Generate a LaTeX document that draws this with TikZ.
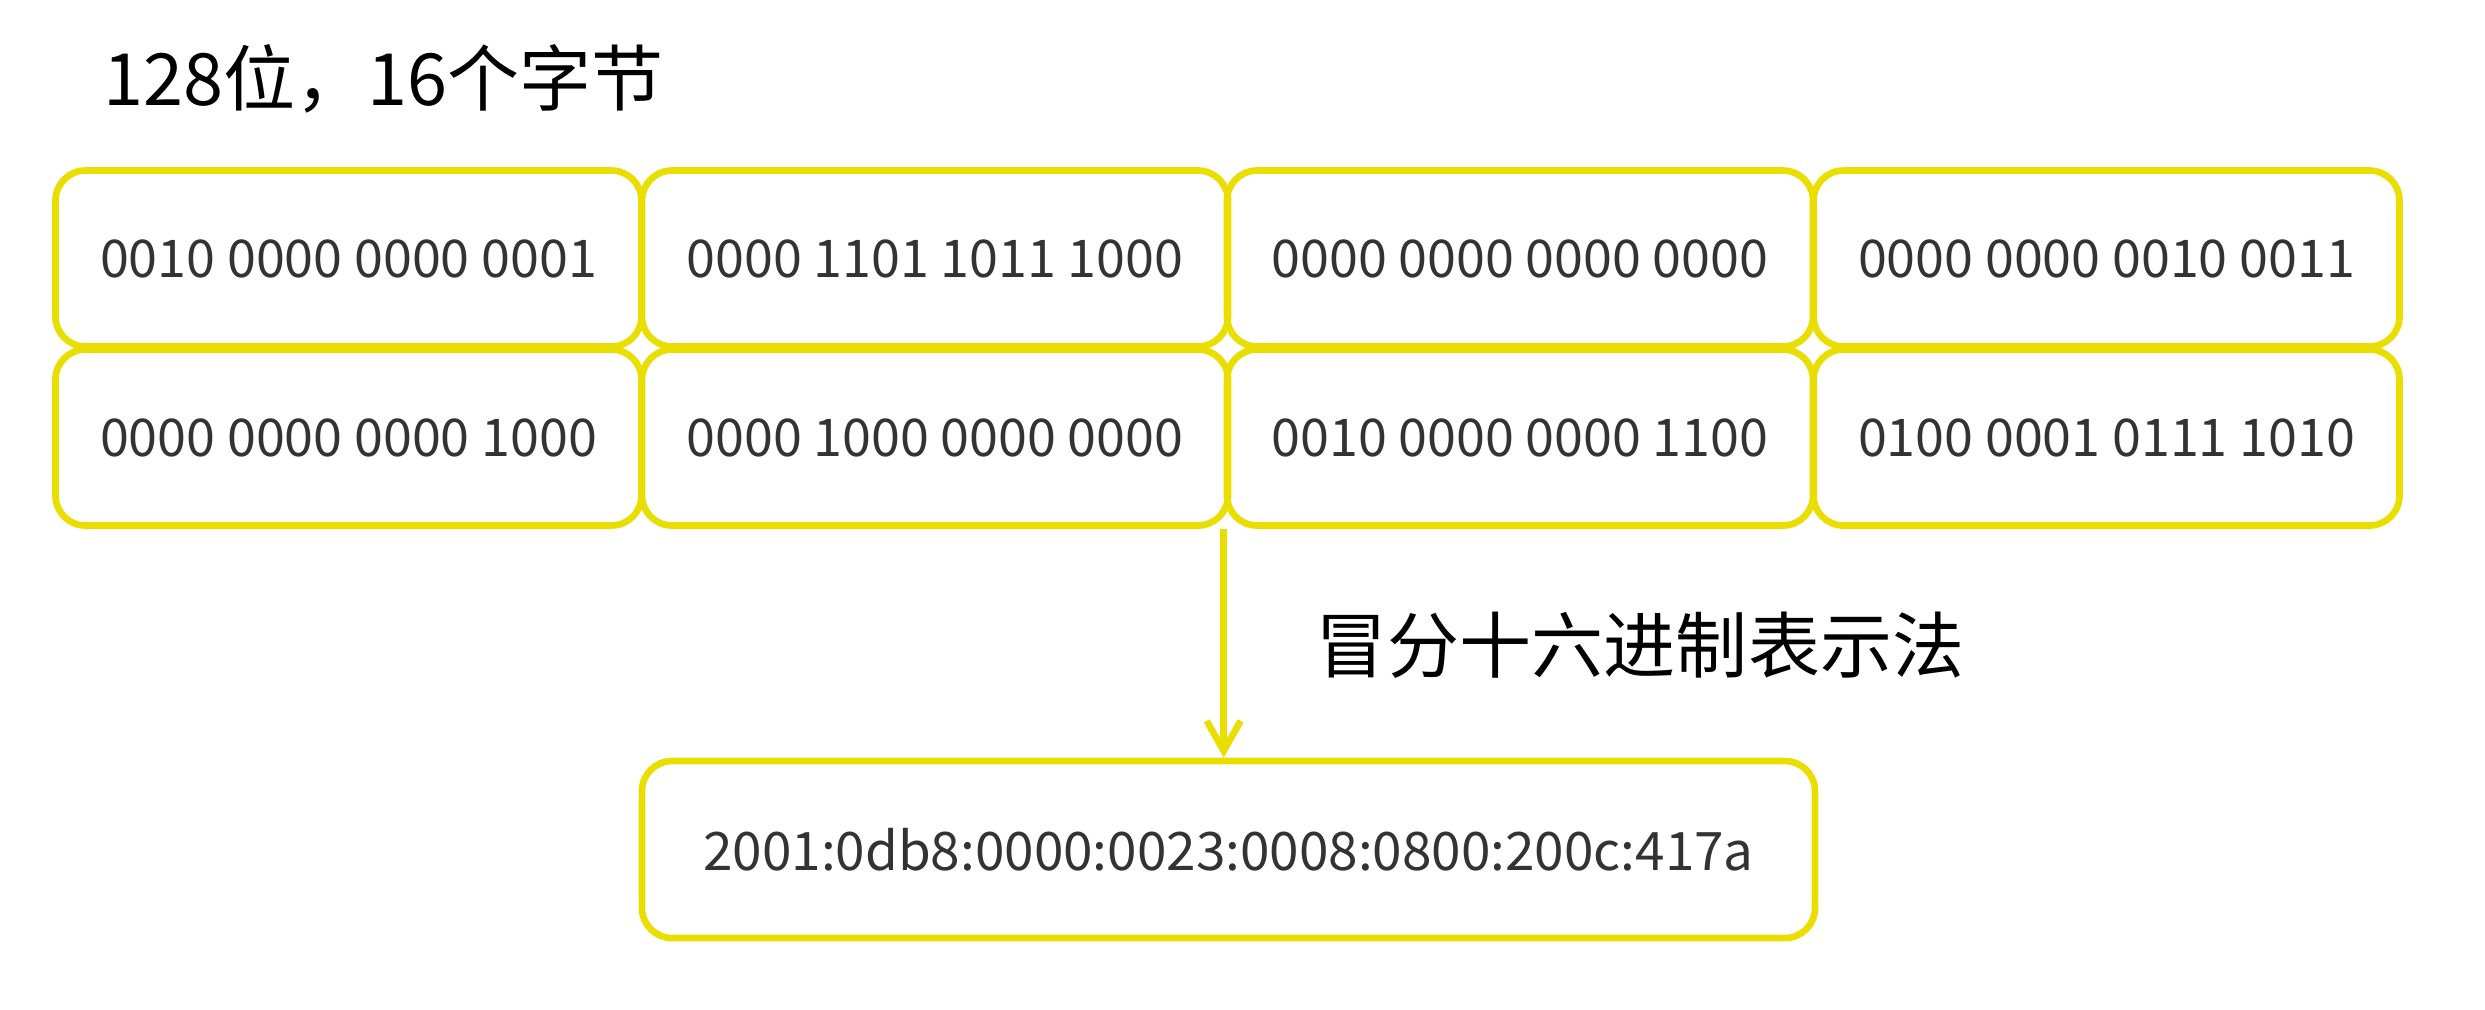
\documentclass[tikz,border=0pt]{standalone}
\usepackage{fontspec}
\setmainfont{Noto Sans CJK SC}
\usetikzlibrary{arrows.meta}
\definecolor{boxyellow}{RGB}{234,222,0}
\definecolor{bintext}{RGB}{51,51,51}
\begin{document}
\begin{tikzpicture}
\tikzset{ >={Straight Barb[length=3mm,width=3.4mm]},
  binbox/.style={draw=boxyellow, line width=1.9pt, rounded corners=0.3cm,
    minimum width=5.86cm, minimum height=1.76cm, inner sep=0pt,
    text=bintext, font=\fontsize{14.8}{17}\selectfont},
  hexbox/.style={binbox, minimum width=11.73cm, minimum height=1.77cm,
    font=\fontsize{15.1}{17}\selectfont},
  caption/.style={anchor=west, inner sep=0pt, font=\fontsize{20.5}{24}\selectfont},
}

\useasboundingbox (0,0) rectangle (24.85,-10.09);

%%% Titulo
\node [caption] (bits) at (1.03,-0.79) {128位，16个字节};

%%% Blocos - primeira linha
\node [binbox] (R1C1) at ( 3.485,-2.585) {0010 0000 0000 0001};
\node [binbox] (R1C2) at ( 9.350,-2.585) {0000 1101 1011 1000};
\node [binbox] (R1C3) at (15.200,-2.585) {0000 0000 0000 0000};
\node [binbox] (R1C4) at (21.065,-2.585) {0000 0000 0010 0011};

%%% Blocos - segunda linha
\node [binbox] (R2C1) at ( 3.485,-4.375) {0000 0000 0000 1000};
\node [binbox] (R2C2) at ( 9.350,-4.375) {0000 1000 0000 0000};
\node [binbox] (R2C3) at (15.200,-4.375) {0010 0000 0000 1100};
\node [binbox] (R2C4) at (21.065,-4.375) {0100 0001 0111 1010};

% hexadecimal
\node [hexbox] (hex) at (12.285,-8.495) {2001:0db8:0000:0023:0008:0800:200c:417a};

%%% Linhas
\draw [->, boxyellow, line width=1.9pt] (R2C3.south west) -- (R2C3.south west |- hex.north);
\node [caption] (colonhex) at (13.15,-6.45) {冒分十六进制表示法};

\end{tikzpicture}
\end{document}
